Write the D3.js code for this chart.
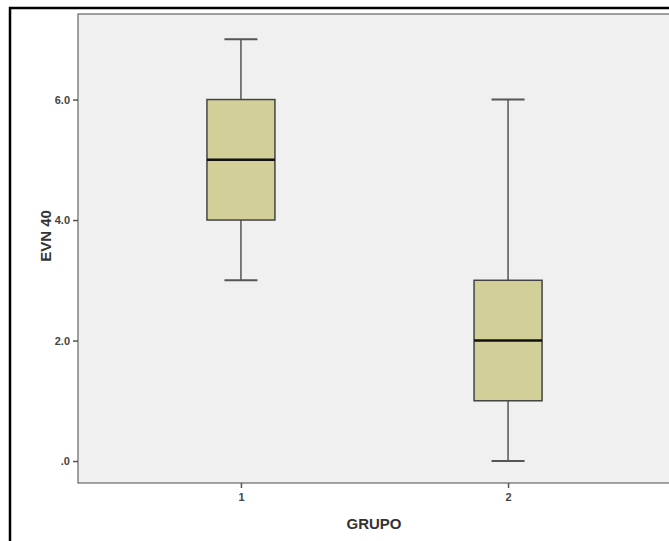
<!DOCTYPE html>
<html>
<head>
<meta charset="utf-8">
<script src="https://cdn.jsdelivr.net/npm/d3@7"></script>
<style>
  body { margin: 0; background: #fff; }
  svg { display: block; font-family: "Liberation Sans", Arial, sans-serif; }
</style>
</head>
<body>
<div id="chart"></div>
<script>
const groups = ['1', '2'];
const mins = [3, 0];
const q1s = [4, 1];
const medians = [5, 2];
const q3s = [6, 3];
const maxs = [7, 6];
const yTicks = [0, 2, 4, 6];

const W = 669, H = 541;
const margin = { top: 14, right: -2, bottom: 58, left: 78 };
const width = W - margin.left - margin.right;
const height = H - margin.top - margin.bottom;

const svg = d3.select('#chart')
    .append('svg')
    .attr('width', W)
    .attr('height', H);

// outer frame
svg.append('path')
    .attr('d', 'M10,' + H + 'V8H' + W)
    .attr('fill', 'none')
    .attr('stroke', '#000')
    .attr('stroke-width', 2.5);

const g = svg.append('g')
    .attr('transform', 'translate(' + margin.left + ',' + margin.top + ')');

const x = d3.scalePoint()
    .domain(groups)
    .range([0, width])
    .padding(0.61);

const y = d3.scaleLinear()
    .domain([-0.365, 7.42])
    .range([height, 0]);

g.append('rect')
    .attr('width', width)
    .attr('height', height)
    .attr('fill', '#f0f0f0')
    .attr('stroke', '#666')
    .attr('stroke-width', 1.2);

const boxW = 68, capW = 33;
const data = groups.map((d, i) => ({
    g: d, min: mins[i], q1: q1s[i], med: medians[i], q3: q3s[i], max: maxs[i]
}));

const box = g.selectAll('.box')
    .data(data)
    .join('g')
    .attr('class', 'box');

// whiskers
box.append('line')
    .attr('x1', d => x(d.g)).attr('x2', d => x(d.g))
    .attr('y1', d => y(d.max)).attr('y2', d => y(d.q3))
    .attr('stroke', '#555').attr('stroke-width', 1.5);
box.append('line')
    .attr('x1', d => x(d.g)).attr('x2', d => x(d.g))
    .attr('y1', d => y(d.q1)).attr('y2', d => y(d.min))
    .attr('stroke', '#555').attr('stroke-width', 1.5);
box.append('line')
    .attr('x1', d => x(d.g) - capW / 2).attr('x2', d => x(d.g) + capW / 2)
    .attr('y1', d => y(d.max)).attr('y2', d => y(d.max))
    .attr('stroke', '#555').attr('stroke-width', 2);
box.append('line')
    .attr('x1', d => x(d.g) - capW / 2).attr('x2', d => x(d.g) + capW / 2)
    .attr('y1', d => y(d.min)).attr('y2', d => y(d.min))
    .attr('stroke', '#555').attr('stroke-width', 2);

box.append('rect')
    .attr('x', d => x(d.g) - boxW / 2)
    .attr('y', d => y(d.q3))
    .attr('width', boxW)
    .attr('height', d => y(d.q1) - y(d.q3))
    .attr('fill', '#d3cf99')
    .attr('stroke', '#444')
    .attr('stroke-width', 1.5);

box.append('line')
    .attr('x1', d => x(d.g) - boxW / 2).attr('x2', d => x(d.g) + boxW / 2)
    .attr('y1', d => y(d.med)).attr('y2', d => y(d.med))
    .attr('stroke', '#111').attr('stroke-width', 2.5);

// Add y-axis
const yAxis = g.append('g')
    .call(d3.axisLeft(y).tickValues(yTicks).tickSize(5).tickPadding(3)
        .tickFormat(d => d === 0 ? '.0' : d3.format('.1f')(d)));
yAxis.select('.domain').remove();

// Add x-axis
const xAxis = g.append('g')
    .attr('transform', 'translate(0,' + height + ')')
    .call(d3.axisBottom(x).tickSize(5).tickPadding(5));
xAxis.select('.domain').remove();

g.selectAll('.tick line').attr('stroke', '#555').attr('stroke-width', 1.5);
g.selectAll('.tick text')
    .attr('fill', '#444')
    .style('font-size', '11px')
    .style('font-weight', 'bold');

// Add labels
svg.append('text')
    .attr('transform', 'rotate(-90)')
    .attr('x', -236)
    .attr('y', 51)
    .style('text-anchor', 'middle')
    .style('font-size', '15px')
    .style('font-weight', 'bold')
    .attr('fill', '#333')
    .text('EVN 40');

svg.append('text')
    .attr('x', 374)
    .attr('y', 529)
    .style('text-anchor', 'middle')
    .style('font-size', '15px')
    .style('font-weight', 'bold')
    .attr('fill', '#333')
    .text('GRUPO');
</script>
</body>
</html>
